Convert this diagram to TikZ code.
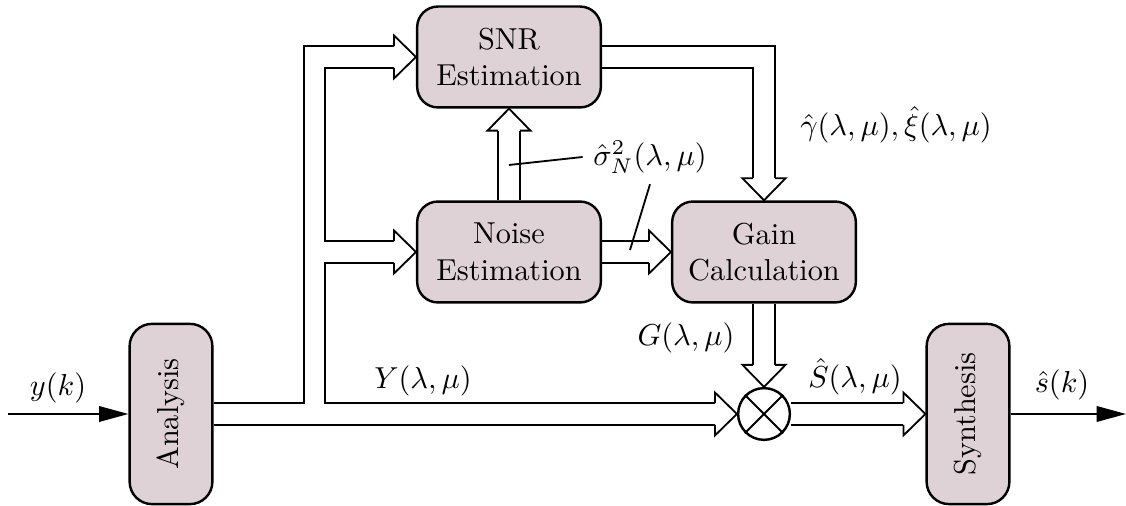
\documentclass[tikz,border=0pt]{standalone}
\usepackage{tikz}
\usetikzlibrary{arrows.meta,positioning,calc,backgrounds}
\definecolor{boxtint}{HTML}{DFD2D7}

\begin{document}
\begin{tikzpicture}[x=0.0116cm,y=0.0116cm,
    pbox/.style={draw,line width=0.8pt,rounded corners=0.24cm,fill=boxtint,
      align=center,minimum width=2.13cm,minimum height=1.17cm,inner sep=2pt},
    vbox/.style={draw,line width=0.8pt,rounded corners=0.26cm,fill=boxtint,
      minimum width=0.96cm,minimum height=2.09cm,inner sep=2pt},
    band/.style={draw,line width=0.6pt,double,double distance=0.23cm,line join=miter},
    sarr/.style={-{Triangle[length=3.4mm,width=1.8mm]},line width=0.6pt},
    hhead/.pic={\filldraw[fill=white,line width=0.6pt,line join=miter]
      (-22,10.8) -- (-22,21.5) -- (0,0) -- (-22,-21.5) -- (-22,-10.8);}]
    \useasboundingbox (0,0) rectangle (1126,506);
    \node[vbox](ana) at (171,92){\rotatebox{90}{Analysis}};
    \node[pbox](snr) at (509,449){SNR\\Estimation};
    \node[pbox](noise) at (509,254){Noise\\Estimation};
    \node[pbox](gain) at (764,254){Gain\\Calculation};
    \node[draw,circle,line width=0.8pt,fill=white,minimum size=0.6cm,inner sep=0pt](mult) at (764,92){};
    \draw[line width=0.6pt](mult.north west)--(mult.south east)(mult.north east)--(mult.south west);
    \node[vbox](syn) at (968,92){\rotatebox{90}{Synthesis}};
    \coordinate(in) at (8,92);
    \coordinate(out) at (1126,92);
    \coordinate(split) at (314.5,92);
    \coordinate(tapA) at (509,341);
    \coordinate(tapB) at (630,256);
    \begin{scope}[on background layer]
    \draw[band](ana.east)--($(mult.west)+(-22,0)$)
      (split)|-($(snr.west)+(-22,0)$)
      (split)|-($(noise.west)+(-22,0)$)
      (noise.north)--($(snr.south)+(0,-22)$)
      (noise.east)--($(gain.west)+(-22,0)$)
      (snr.east)-|($(gain.north)+(0,22)$)
      (gain.south)--($(mult.north)+(0,22)$)
      (mult.east)--($(syn.west)+(-22,0)$);
    \end{scope}
    \pic at (snr.west){hhead};
    \pic at (noise.west){hhead};
    \pic at (gain.west){hhead};
    \pic at (mult.west){hhead};
    \pic at (syn.west){hhead};
    \pic[rotate=90] at (snr.south){hhead};
    \pic[rotate=-90] at (gain.north){hhead};
    \pic[rotate=-90] at (mult.north){hhead};
    \draw[sarr](in)--(ana.west);
    \draw[sarr](syn.east)--(out);
    \node(yk) at (58,118){$y(k)$};
    \node(Ylm) at (423,125){$Y(\lambda,\mu)$};
    \node(Glm) at (686,168){$G(\lambda,\mu)$};
    \node(Shat) at (855,129){$\hat{S}(\lambda,\mu)$};
    \node(shat) at (1062,121){$\hat{s}(k)$};
    \node(gx) at (896,381){$\hat{\gamma}(\lambda,\mu),\hat{\xi}(\lambda,\mu)$};
    \node(sig) at (650,349){$\hat{\sigma}^2_N(\lambda,\mu)$};
    \draw[line width=0.6pt](sig.west)--(tapA);
    \draw[line width=0.6pt](sig.south)--(tapB);
\end{tikzpicture}
\end{document}
